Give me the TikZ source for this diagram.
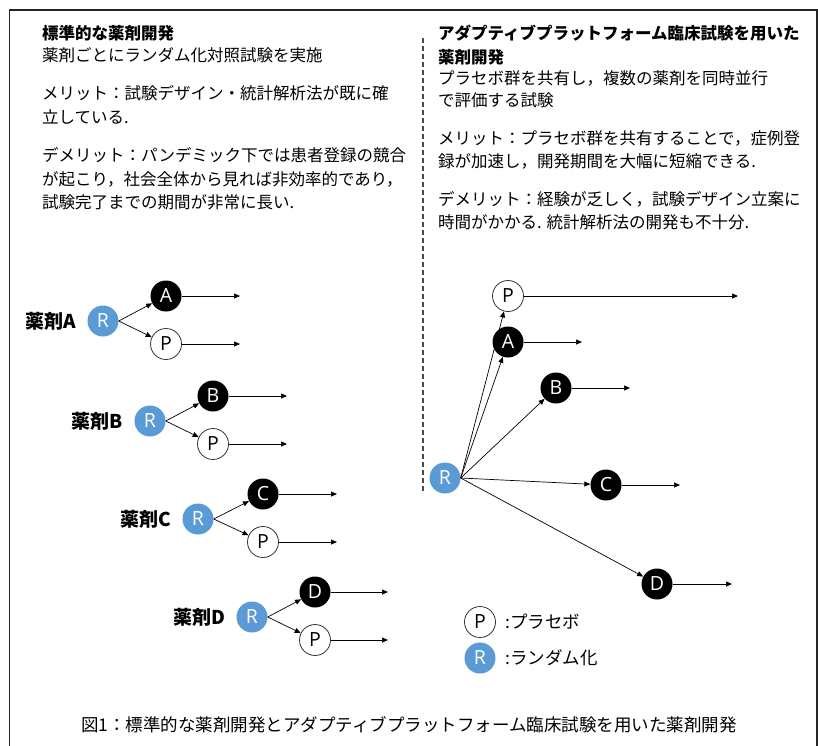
\documentclass[tikz,border=0pt]{standalone}
\usepackage{fontspec}
\setmainfont{Noto Sans CJK JP}
\newfontfamily\latf{Open Sans}
\usetikzlibrary{arrows.meta}
\definecolor{rblue}{HTML}{5B9BD5}
\begin{document}
\begin{tikzpicture}[x=1pt,y=-1pt,
 txt/.style={anchor=base west, inner sep=0, font=\fontsize{16.5}{20}\selectfont},
 ttl/.style={anchor=base west, inner sep=0, font=\fontsize{16.5}{20}\selectfont\bfseries},
 circ/.style={circle, minimum size=31pt, inner sep=0, font=\latf\fontsize{19.5}{20}\selectfont},
 rnd/.style={circ, fill=rblue, text=white},
 drug/.style={circ, fill=black, text=white},
 plac/.style={circ, draw=black!80, line width=0.8pt, fill=white, text=black},
 arr/.style={-{Triangle[length=6pt,width=5pt]}, line width=0.7pt},
 lbl/.style={anchor=east, inner sep=0, font=\fontsize{19}{20}\selectfont\bfseries},
 leg/.style={anchor=west, inner sep=0, font=\fontsize{17.5}{20}\selectfont},
]
\useasboundingbox (0,0) rectangle (818,745);
\fill[white] (0,0) rectangle (818,745);
% frame
\draw[line width=1.6pt, black!85] (9.5,760) -- (9.5,10) -- (817,10) -- (817,760);
% divider
\draw[dashed, dash pattern=on 5pt off 3pt, line width=1.2pt, black!70] (423,38) -- (423,492);

% left text
\node[ttl] (l1) at (42,39) {標準的な薬剤開発};
\node[txt] (l2) at (42,61) {薬剤ごとにランダム化対照試験を実施};
\node[txt] (l3) at (42,99) {メリット：試験デザイン・統計解析法が既に確};
\node[txt] (l4) at (42,123) {立している.};
\node[txt] (l5) at (42,161) {デメリット：パンデミック下では患者登録の競合};
\node[txt] (l6) at (42,185) {が起こり，社会全体から見れば非効率的であり，};
\node[txt] (l7) at (42,208) {試験完了までの期間が非常に長い.};

% right text
\node[ttl] (r1) at (438,39) {アダプティブプラットフォーム臨床試験を用いた};
\node[ttl] (r2) at (438,63) {薬剤開発};
\node[txt] (r3) at (438,84) {プラセボ群を共有し，複数の薬剤を同時並行};
\node[txt] (r4) at (438,106) {で評価する試験};
\node[txt] (r5) at (438,144) {メリット：プラセボ群を共有することで，症例登};
\node[txt] (r6) at (438,167) {録が加速し，開発期間を大幅に短縮できる.};
\node[txt] (r7) at (438,205) {デメリット：経験が乏しく，試験デザイン立案に};
\node[txt] (r8) at (438,228) {時間がかかる. 統計解析法の開発も不十分.};

% standard trials
\foreach \n/\rx/\ry/\dx/\ex in {A/103/321/166/240, B/150/421/213/287, C/198/519/263/337, D/252/617/315/388}{
  \node[rnd] (R\n) at (\rx,\ry) {R};
  \node[drug] (D\n) at (\dx,\ry-25) {\n};
  \node[plac] (P\n) at (\dx,\ry+23) {P};
  \coordinate (ED\n) at (\ex,\ry-25);
  \coordinate (EP\n) at (\ex,\ry+23);
  \node[lbl] (L\n) at ([xshift=-11pt]R\n.west) {薬剤\n};
  \draw[arr] (R\n.east) -- (D\n);
  \draw[arr] (R\n.east) -- (P\n);
  \draw[arr] (D\n) -- (ED\n);
  \draw[arr] (P\n) -- (EP\n);
}

% platform trial
\node[rnd] (RR) at (445,478) {R};
\node[plac] (QP) at (508,296) {P};
\node[drug] (QA) at (508,342) {A};
\node[drug] (QB) at (556,388) {B};
\node[drug] (QC) at (606,485) {C};
\node[drug] (QD) at (657,584) {D};
\coordinate (FP) at (738,296);
\coordinate (FA) at (582,342);
\coordinate (FB) at (630,388);
\coordinate (FC) at (680,485);
\coordinate (FD) at (732,584);
\foreach \m in {P,A,B,C,D}{
  \draw[arr] (RR.east) -- (Q\m);
  \draw[arr] (Q\m) -- (F\m);
}

% legend
\node[plac] (LP) at (480,622) {P};
\node[rnd] (LR) at (480,658) {R};
\node[leg] (LPt) at (505,622) {:プラセボ};
\node[leg] (LRt) at (505,658) {:ランダム化};

% caption
\node[inner sep=0, font=\fontsize{17.5}{20}\selectfont] (cap) at (409,725) {図1：標準的な薬剤開発とアダプティブプラットフォーム臨床試験を用いた薬剤開発};
\end{tikzpicture}
\end{document}
